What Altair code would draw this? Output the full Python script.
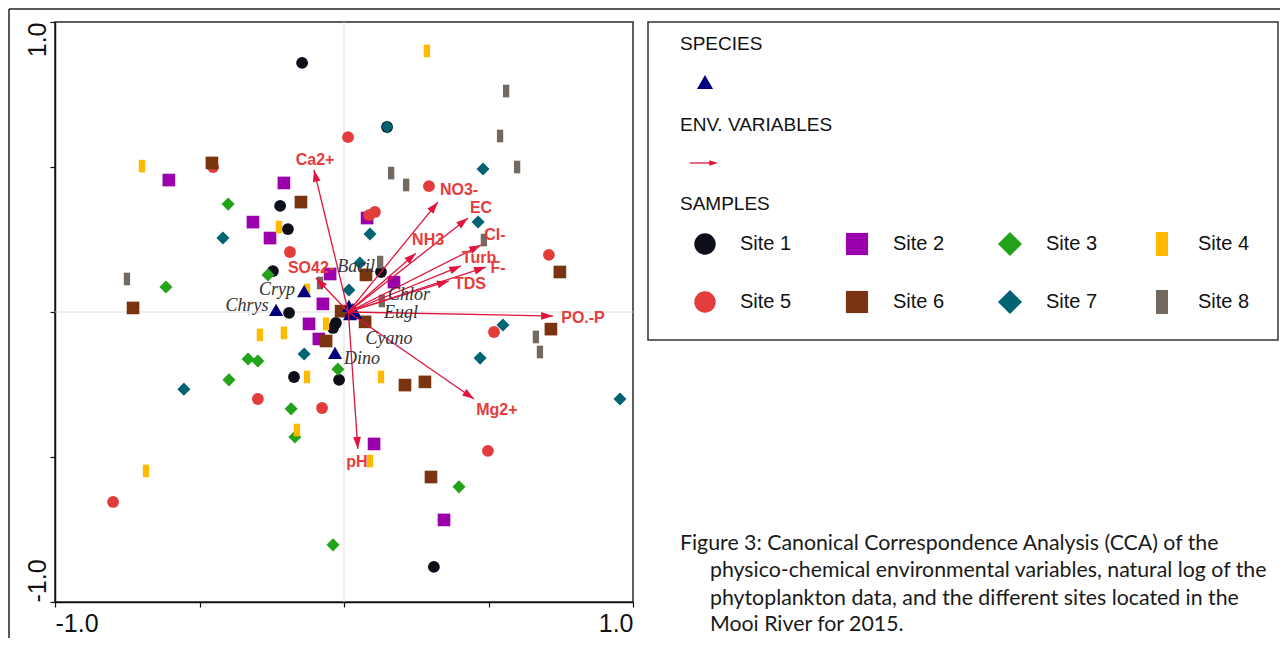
import altair as alt
import pandas as pd

# ---------------- data (CCA scores) ----------------
sites = ["Site 1", "Site 2", "Site 3", "Site 4", "Site 5", "Site 6", "Site 7", "Site 8"]

site1_x = [-0.145, 0.149, -0.221, -0.194, -0.246, 0.128, -0.190, -0.028, -0.038, -0.173, -0.017, 0.311]
site1_y = [0.859, 0.638, 0.366, 0.286, 0.141, 0.138, -0.003, -0.038, -0.055, -0.224, -0.234, -0.879]

site2_x = [-0.606, -0.208, -0.315, -0.256, -0.048, -0.073, 0.080, 0.173, -0.121, -0.087, 0.104, 0.346]
site2_y = [0.455, 0.445, 0.310, 0.255, 0.131, 0.028, 0.324, 0.103, -0.041, -0.093, -0.455, -0.717]

site3_x = [-0.401, -0.263, -0.616, -0.332, -0.298, -0.398, -0.183, -0.170, -0.021, -0.038, 0.398]
site3_y = [0.372, 0.128, 0.086, -0.162, -0.169, -0.234, -0.334, -0.431, -0.197, -0.803, -0.603]

site4_x = [0.287, -0.699, -0.225, -0.128, -0.291, -0.208, -0.062, -0.128, -0.163, -0.685, 0.128, 0.090]
site4_y = [0.900, 0.503, 0.293, 0.076, -0.079, -0.072, -0.041, -0.224, -0.407, -0.548, -0.224, -0.514]

site5_x = [0.014, -0.453, -0.187, 0.294, 0.087, 0.107, 0.709, 0.519, 0.498, -0.298, -0.076, -0.799]
site5_y = [0.603, 0.500, 0.207, 0.434, 0.334, 0.345, 0.197, -0.069, -0.479, -0.300, -0.331, -0.655]

site6_x = [-0.457, -0.149, -0.730, -0.010, -0.062, 0.076, 0.073, 0.747, 0.716, 0.211, 0.280, 0.301]
site6_y = [0.514, 0.379, 0.014, 0.003, -0.100, 0.128, -0.034, 0.138, -0.059, -0.252, -0.241, -0.569]

site7_x = [0.149, 0.481, 0.464, 0.090, 0.055, 0.017, -0.419, -0.138, -0.554, 0.550, 0.471, 0.955]
site7_y = [0.638, 0.493, 0.310, 0.269, 0.169, 0.076, 0.255, -0.145, -0.266, -0.045, -0.159, -0.300]

site8_x = [0.561, 0.540, 0.599, 0.163, 0.215, 0.484, 0.125, 0.131, -0.751, -0.083, 0.664, 0.678]
site8_y = [0.762, 0.607, 0.500, 0.479, 0.438, 0.248, 0.172, 0.038, 0.114, 0.100, -0.086, -0.138]

species_names = ["Chrys", "Cryp", "Bacil", "Chlor", "Eugl", "Cyano", "Dino"]
species_x = [-0.235, -0.138, 0.017, 0.031, 0.038, 0.021, -0.031]
species_y = [0.007, 0.072, 0.021, 0.010, -0.003, -0.007, -0.141]
species_label_x = [-0.336, -0.232, 0.042, 0.225, 0.197, 0.156, 0.062]
species_label_y = [0.021, 0.076, 0.155, 0.059, -0.003, -0.093, -0.162]

env_names = ["Ca2+", "SO42-", "NO3-", "EC", "NH3", "Cl-", "Turb", "F-", "TDS", "PO.-P", "Mg2+", "pH"]
env_x = [-0.104, -0.097, 0.325, 0.429, 0.249, 0.474, 0.405, 0.491, 0.363, 0.723, 0.450, 0.048]
env_y = [0.490, 0.117, 0.379, 0.324, 0.203, 0.231, 0.159, 0.155, 0.107, -0.014, -0.300, -0.472]
env_label_x = [-0.100, -0.114, 0.398, 0.474, 0.291, 0.522, 0.467, 0.533, 0.436, 0.827, 0.529, 0.045]
env_label_y = [0.524, 0.152, 0.421, 0.359, 0.248, 0.266, 0.186, 0.152, 0.097, -0.021, -0.338, -0.517]

caption_lines = [
    "Figure 3: Canonical Correspondence Analysis (CCA) of the",
    "physico-chemical environmental variables, natural log of the",
    "phytoplankton data, and the different sites located in the",
    "Mooi River for 2015.",
]

# ---------------- styles ----------------
site_colors = ["#0d0f1a", "#9a00ac", "#22a31a", "#ffba00", "#e33d3b", "#7b3410", "#006373", "#726960"]
RECT = "M-0.5,-1L0.5,-1L0.5,1L-0.5,1Z"
ARROW = "M0,0L-0.33,1L0.33,1Z"
site_shapes = ["circle", "square", "diamond", RECT, "circle", "square", "diamond", RECT]
site_sizes = [140, 160, 170, 160, 140, 160, 170, 160]
leg_sizes = [460, 490, 580, 580, 460, 490, 580, 580]
NAVY = "#00007e"
ARROW_RED = "#e0143c"
LABEL_RED = "#e63c3c"
SANS = "Liberation Sans"

xs = alt.Scale(domain=[-1, 1], nice=False, zero=False)
ys = alt.Scale(domain=[-1, 1], nice=False, zero=False)
lab_expr = "datum.value == 1 ? '1.0' : (datum.value == -1 ? '-1.0' : '')"
xaxis = alt.Axis(values=[-1, -0.5, 0, 0.5, 1], labelExpr=lab_expr, labelFlush=True,
                 labelOverlap=False, labelFontSize=25, labelFont=SANS, labelColor="#111",
                 domainColor="#111", domainWidth=1.5, tickColor="#111", tickSize=5,
                 tickWidth=1.2, grid=False, title=None, labelPadding=4)
yaxis = alt.Axis(values=[-1, -0.5, 0, 0.5, 1], labelExpr=lab_expr, labelFlush=False,
                 labelOverlap=False, labelAngle=270,
                 labelAlign={"condition": {"test": "datum.value > 0", "value": "right"}, "value": "left"},
                 labelBaseline="alphabetic", labelFontSize=25, labelFont=SANS, labelColor="#111",
                 domainColor="#111", domainWidth=1.5, tickColor="#111", tickSize=5,
                 tickWidth=1.2, grid=False, title=None, labelPadding=5)

def X(f):
    return alt.X(f + ":Q", scale=xs, axis=xaxis)

def Y(f):
    return alt.Y(f + ":Q", scale=ys, axis=yaxis)

layers = []

# zero lines
zero = pd.DataFrame({"x": [0.0], "y": [0.0]})
layers.append(alt.Chart(zero).mark_rule(color="#dcdcdc", strokeWidth=1).encode(x=X("x")))
layers.append(alt.Chart(zero).mark_rule(color="#dcdcdc", strokeWidth=1).encode(y=Y("y")))

# samples
all_x = [site1_x, site2_x, site3_x, site4_x, site5_x, site6_x, site7_x, site8_x]
all_y = [site1_y, site2_y, site3_y, site4_y, site5_y, site6_y, site7_y, site8_y]
for i, s in enumerate(sites):
    df = pd.DataFrame({"x": all_x[i], "y": all_y[i], "site": s})
    layers.append(
        alt.Chart(df).mark_point(shape=site_shapes[i], size=site_sizes[i], filled=True,
                                 color=site_colors[i], opacity=1, strokeWidth=0)
        .encode(x=X("x"), y=Y("y"))
    )

# species
sp = pd.DataFrame({"name": species_names, "x": species_x, "y": species_y})
layers.append(alt.Chart(sp).mark_point(shape="triangle-up", size=200, filled=True, color=NAVY,
                                       opacity=1, strokeWidth=0).encode(x=X("x"), y=Y("y")))

# environmental arrows
env = pd.DataFrame({"name": env_names, "x": env_x, "y": env_y})
arr = alt.Chart(env).transform_calculate(x0="0.015", y0="0")
layers.append(arr.mark_rule(color=ARROW_RED, strokeWidth=1.3).encode(
    x=X("x0"), y=Y("y0"), x2=alt.X2("x"), y2=alt.Y2("y")))
layers.append(arr.transform_calculate(
    ang="(atan2(datum.x - 0.015, datum.y) * 180 / PI + 360) % 360"
).mark_point(shape=ARROW, size=560, filled=True, color=ARROW_RED, opacity=1, strokeWidth=0).encode(
    x=X("x"), y=Y("y"), angle=alt.Angle("ang:Q", scale=None)))

envlab = pd.DataFrame({"name": env_names, "x": env_label_x, "y": env_label_y})
layers.append(alt.Chart(envlab).mark_text(font=SANS, fontWeight="bold", fontSize=16,
                                          color=LABEL_RED, align="center", baseline="middle")
              .encode(x=X("x"), y=Y("y"), text="name:N"))

splab = pd.DataFrame({"name": species_names, "x": species_label_x, "y": species_label_y})
layers.append(alt.Chart(splab).mark_text(font="Liberation Serif", fontStyle="italic", fontSize=18,
                                         color="#333", align="center", baseline="middle")
              .encode(x=X("x"), y=Y("y"), text="name:N"))

# ---------------- decorations: frame, legend, caption (pixel positions) ----------------
one = pd.DataFrame({"d": [0]})

def hline(x1, x2, y, color="#222", w=1.5):
    return alt.Chart(one).mark_rule(color=color, strokeWidth=w).encode(
        x=alt.value(x1), x2=alt.value(x2), y=alt.value(y), y2=alt.value(y))

def vline(x, y1, y2, color="#222", w=1.5):
    return alt.Chart(one).mark_rule(color=color, strokeWidth=w).encode(
        x=alt.value(x), x2=alt.value(x), y=alt.value(y1), y2=alt.value(y2))

def ptext(txt, x, y, size=18, font=SANS, color="#111", align="left"):
    return alt.Chart(one).mark_text(text=txt, font=font, fontSize=size, color=color,
                                    align=align, baseline="middle").encode(
        x=alt.value(x), y=alt.value(y))

# outer figure border
layers.append(hline(-46, 1225, -13))
layers.append(vline(-46, -13, 640))

# legend box
layers.append(alt.Chart(one).mark_rect(fill="white", fillOpacity=0, stroke="#333", strokeWidth=1.5)
              .encode(x=alt.value(593), x2=alt.value(1223), y=alt.value(0), y2=alt.value(318)))

layers.append(ptext("SPECIES", 625, 22, size=19))
layers.append(alt.Chart(one).mark_point(shape="triangle-up", size=260, filled=True, color=NAVY,
                                        opacity=1, strokeWidth=0)
              .encode(x=alt.value(650), y=alt.value(60)))
layers.append(ptext("ENV. VARIABLES", 625, 103, size=19))
layers.append(hline(635, 656, 141, color=ARROW_RED, w=1.3))
layers.append(alt.Chart(one).mark_point(shape=ARROW, size=300, filled=True, color=ARROW_RED,
                                        opacity=1, strokeWidth=0, angle=90)
              .encode(x=alt.value(663), y=alt.value(141)))
layers.append(ptext("SAMPLES", 625, 182, size=19))

leg_mx = [650, 802, 955, 1107]
leg_tx = [685, 838, 991, 1143]
leg_ry = [222, 280]
for i, s in enumerate(sites):
    r, c = divmod(i, 4)
    layers.append(alt.Chart(one).mark_point(shape=site_shapes[i], size=leg_sizes[i], filled=True,
                                            color=site_colors[i], opacity=1, strokeWidth=0)
                  .encode(x=alt.value(leg_mx[c]), y=alt.value(leg_ry[r])))
    layers.append(ptext(s, leg_tx[c], leg_ry[r], size=20))

# caption
cap_x = [625, 655, 655, 655]
cap_y = [522, 549, 577, 603]
for i, line in enumerate(caption_lines):
    layers.append(ptext(line, cap_x[i], cap_y[i], size=21.3, font="Lato", color="#1a1a1a"))

chart = alt.layer(*layers).properties(
    width=578, height=580,
    padding={"left": 47, "top": 14, "right": 647, "bottom": 36},
    autosize=alt.AutoSizeParams(type="none"),
    background="white",
).configure_view(stroke="#2a2a2a", strokeWidth=1.5)

chart.save("out.html", embed_options={"renderer": "svg", "actions": False})
